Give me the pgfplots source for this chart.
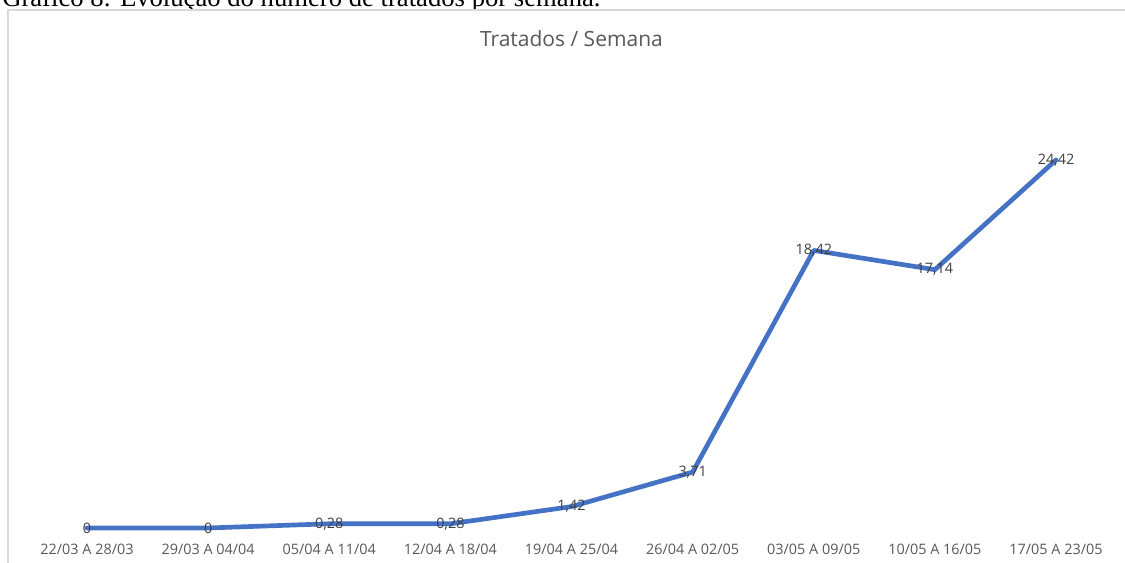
\documentclass[border=0pt]{standalone}
\usepackage{pgfplots}
\pgfplotsset{compat=1.18}
\usepackage{fontspec}
\setmainfont{Open Sans}
\newfontfamily\capfont{Liberation Serif}
\definecolor{lineblue}{HTML}{4472C4}
\definecolor{ticktxt}{HTML}{595959}
\definecolor{lbltxt}{HTML}{404040}
\definecolor{framegray}{HTML}{D9D9D9}
\pgfplotstableread{
x y lbl
0 0 0
1 0 0
2 0.28 0,28
3 0.28 0,28
4 1.42 1,42
5 3.71 3,71
6 18.42 18,42
7 17.14 17,14
8 24.42 24,42
}\datatable
\begin{document}
\begin{tikzpicture}
\useasboundingbox[fill=white] (0,0) rectangle (843.75pt,422.25pt);
% caption (partly cut off at top)
\node[overlay, anchor=base west, inner sep=0pt, font=\capfont\fontsize{20pt}{22pt}\selectfont, text=black] at (1.5pt,417pt) {Gráfico 8: Evolução do número de tratados por semana.};
% chart frame
\fill[overlay, white] (6pt,-5pt) rectangle (850pt,414.75pt);
\draw[overlay, framegray, line width=1.2pt] (6pt,-5pt) -- (6pt,414.75pt) -- (850pt,414.75pt);
% title
\node[anchor=base, inner sep=0pt, font=\fontsize{15.75pt}{18pt}\selectfont, text=ticktxt] at (428.6pt,387pt) {Tratados / Semana};
\begin{axis}[
  at={(65.25pt,26.25pt)}, anchor=south west,
  scale only axis, width=726.75pt, height=276pt,
  xmin=0, xmax=8, ymin=0, ymax=24.42,
  clip=false,
  axis line style={draw=none},
  major tick length=0pt,
  ytick=\empty,
  xtick={0,...,8},
  xticklabels={22/03 A 28/03,29/03 A 04/04,05/04 A 11/04,12/04 A 18/04,19/04 A 25/04,26/04 A 02/05,03/05 A 09/05,10/05 A 16/05,17/05 A 23/05},
  xticklabel style={anchor=base, yshift=-20.25pt, inner sep=0pt, font=\fontsize{10.8pt}{12pt}\selectfont, text=ticktxt},
  nodes near coords,
  point meta=explicit symbolic,
  every node near coord/.append style={anchor=center, inner sep=0pt, font=\fontsize{10.8pt}{12pt}\selectfont, text=lbltxt},
]
\addplot[lineblue, line width=3.5pt, line join=round, line cap=round, mark=none] table[x=x, y=y, meta=lbl] {\datatable};
\end{axis}
\end{tikzpicture}
\end{document}
